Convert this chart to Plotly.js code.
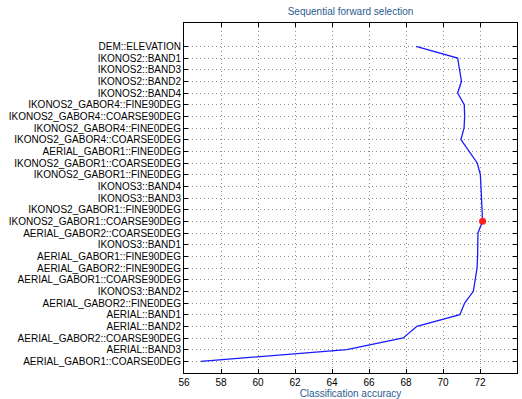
<!DOCTYPE html>
<html>
<head>
<meta charset="utf-8">
<script src="https://cdn.plot.ly/plotly-3.0.1.min.js"></script>
<style>html,body{margin:0;padding:0;background:#fff;}#chart{width:522px;height:399px;}</style>
</head>
<body>
<div id="chart"></div>
<script>
// Features in order of selection (first selected at bottom)
const features = [
  "AERIAL_GABOR1::COARSE0DEG",
  "AERIAL::BAND3",
  "AERIAL_GABOR2::COARSE90DEG",
  "AERIAL::BAND2",
  "AERIAL::BAND1",
  "AERIAL_GABOR2::FINE0DEG",
  "IKONOS3::BAND2",
  "AERIAL_GABOR1::COARSE90DEG",
  "AERIAL_GABOR2::FINE90DEG",
  "AERIAL_GABOR1::FINE90DEG",
  "IKONOS3::BAND1",
  "AERIAL_GABOR2::COARSE0DEG",
  "IKONOS2_GABOR1::COARSE90DEG",
  "IKONOS2_GABOR1::FINE90DEG",
  "IKONOS3::BAND3",
  "IKONOS3::BAND4",
  "IKONOS2_GABOR1::FINE0DEG",
  "IKONOS2_GABOR1::COARSE0DEG",
  "AERIAL_GABOR1::FINE0DEG",
  "IKONOS2_GABOR4::COARSE0DEG",
  "IKONOS2_GABOR4::FINE0DEG",
  "IKONOS2_GABOR4::COARSE90DEG",
  "IKONOS2_GABOR4::FINE90DEG",
  "IKONOS2::BAND4",
  "IKONOS2::BAND2",
  "IKONOS2::BAND3",
  "IKONOS2::BAND1",
  "DEM::ELEVATION"
];
// Classification accuracy after adding each feature
const accuracy = [
  56.92, 64.80, 67.85, 68.59, 70.91, 71.17, 71.64, 71.76, 71.84, 71.87,
  71.87, 71.89, 72.14, 72.12, 72.10, 72.07, 72.02, 71.85, 71.40, 70.97,
  71.14, 71.17, 71.15, 70.79, 71.00, 70.90, 70.79, 68.54
];
const xTicks = [56, 58, 60, 62, 64, 66, 68, 70, 72, 74];

let best = 0;
for (let i = 1; i < accuracy.length; i++) if (accuracy[i] > accuracy[best]) best = i;

const FONT = "Liberation Sans, Arial, Helvetica, sans-serif";
const BLUE_TXT = "#2b5c8f";

const traces = [
  {
    x: accuracy, y: features, type: "scatter", mode: "lines",
    line: {color: "#1a1aff", width: 1.3}, hoverinfo: "skip", showlegend: false
  },
  {
    x: [accuracy[best]], y: [features[best]], type: "scatter", mode: "markers",
    marker: {color: "#ff2020", size: 7}, showlegend: false
  }
];

const layout = {
  width: 522, height: 399,
  margin: {l: 184, r: 5, t: 23, b: 26},
  paper_bgcolor: "#ffffff", plot_bgcolor: "#ffffff",
  font: {family: FONT, size: 10, color: "#000"},
  title: {text: "Sequential forward selection", font: {family: FONT, size: 10, color: BLUE_TXT},
          x: 0.5, xref: "paper", y: 0.972, yref: "container", yanchor: "middle"},
  xaxis: {
    range: [56, 74], tickmode: "array", tickvals: xTicks, ticktext: xTicks.map(String),
    showline: true, linecolor: "#000", linewidth: 1, mirror: "ticks",
    ticks: "inside", ticklen: 4, tickcolor: "#000",
    showgrid: true, gridcolor: "#8c8c8c", griddash: "1px,3px", gridwidth: 1,
    zeroline: false,
    title: {text: "Classification accuracy", font: {family: FONT, size: 10, color: BLUE_TXT}, standoff: 2},
    tickfont: {family: FONT, size: 10, color: "#000"}
  },
  yaxis: {
    type: "category", categoryorder: "array", categoryarray: features,
    tickmode: "array", tickvals: features, ticktext: features,
    range: [-1, 29],
    showline: true, linecolor: "#000", linewidth: 1, mirror: "ticks",
    ticks: "inside", ticklen: 4, tickcolor: "#000",
    showgrid: true, gridcolor: "#8c8c8c", griddash: "1px,3px", gridwidth: 1,
    zeroline: false, automargin: false,
    tickfont: {family: FONT, size: 10, color: "#000"}
  }
};

Plotly.newPlot("chart", traces, layout, {staticPlot: true, displayModeBar: false});
</script>
</body>
</html>
